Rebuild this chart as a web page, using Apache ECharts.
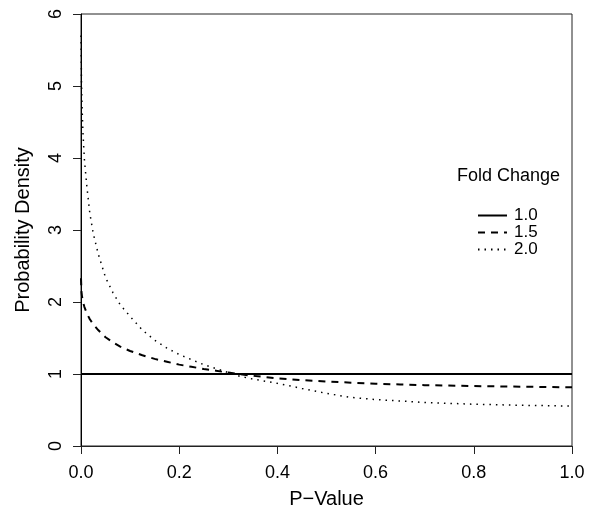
<!DOCTYPE html>
<html>
<head>
<meta charset="utf-8">
<script src="https://cdn.jsdelivr.net/npm/echarts@6/dist/echarts.min.js"></script>
<style>
  html, body { margin: 0; padding: 0; background: #fff; }
  #main { width: 594px; height: 510px; }
</style>
</head>
<body>
<div id="main"></div>
<script>
// p-values sampled along the x axis
var pValues = [0, 0.001, 0.002, 0.004, 0.007, 0.012, 0.018, 0.025, 0.035, 0.05,
  0.065, 0.08, 0.1, 0.125, 0.15, 0.175, 0.2, 0.225, 0.25, 0.275, 0.3, 0.325,
  0.35, 0.4, 0.45, 0.5, 0.55, 0.6, 0.65, 0.7, 0.8, 0.9, 1.0];

// densities, one per fold change
var fold10 = [1, 1, 1, 1, 1, 1, 1, 1, 1, 1, 1, 1, 1, 1, 1, 1, 1, 1, 1, 1, 1, 1,
  1, 1, 1, 1, 1, 1, 1, 1, 1, 1, 1];
var fold15 = [2.33, 2.14, 2.08, 2.0, 1.93, 1.84, 1.76, 1.69, 1.61, 1.51,
  1.44, 1.38, 1.32, 1.26, 1.21, 1.17, 1.13, 1.10, 1.07, 1.045, 1.02, 0.995,
  0.975, 0.94, 0.915, 0.895, 0.88, 0.865, 0.855, 0.845, 0.833, 0.823, 0.815];
var fold20 = [5.7, 5.05, 4.75, 4.35, 3.97, 3.6, 3.23, 2.95, 2.67, 2.34,
  2.13, 1.96, 1.80, 1.61, 1.47, 1.36, 1.27, 1.20, 1.13, 1.075, 1.02, 0.965,
  0.93, 0.87, 0.80, 0.73, 0.675, 0.645, 0.625, 0.605, 0.58, 0.565, 0.555];

var seriesNames = ['1.0', '1.5', '2.0'];
var xTicks = [0, 0.2, 0.4, 0.6, 0.8, 1.0];
var yTicks = [0, 1, 2, 3, 4, 5, 6];

function pairs(ys) {
  return pValues.map(function (p, i) { return [p, ys[i]]; });
}

var font = '"Liberation Sans", Arial, Helvetica, sans-serif';
var chart = echarts.init(document.getElementById('main'));

var option = {
  animation: false,
  backgroundColor: '#fff',
  color: ['#000', '#000', '#000'],
  textStyle: { fontFamily: font, color: '#000' },
  title: {
    text: 'Fold Change',
    left: 452,
    top: 162,
    textStyle: { fontFamily: font, fontSize: 18, fontWeight: 'normal', color: '#000' }
  },
  legend: {
    orient: 'vertical',
    left: 472,
    top: 202,
    itemWidth: 29,
    itemHeight: 12,
    itemGap: 0,
    data: seriesNames,
    itemStyle: { color: 'transparent', borderColor: 'transparent', borderWidth: 0 },
    textStyle: { fontFamily: font, fontSize: 17, lineHeight: 17, color: '#000', padding: [0, 0, 0, 2] }
  },
  grid: {
    left: 81,
    right: 22,
    top: 14,
    bottom: 64,
    outerBoundsMode: 'none',
    show: true,
    borderColor: '#222',
    borderWidth: 1
  },
  xAxis: {
    type: 'value',
    min: xTicks[0],
    max: xTicks[xTicks.length - 1],
    interval: 0.2,
    name: 'P\u2212Value',
    nameLocation: 'middle',
    nameGap: 43,
    nameTextStyle: { fontFamily: font, fontSize: 20, color: '#000' },
    splitLine: { show: false },
    axisLine: { show: true, lineStyle: { color: '#222', width: 1 } },
    axisTick: { show: true, length: 8, lineStyle: { color: '#222' } },
    axisLabel: {
      fontFamily: font, fontSize: 18, color: '#000', margin: 18,
      formatter: function (v) { return v.toFixed(1); }
    }
  },
  yAxis: {
    type: 'value',
    min: yTicks[0],
    max: yTicks[yTicks.length - 1],
    interval: 1,
    name: 'Probability Density',
    nameLocation: 'middle',
    nameGap: 48,
    nameTextStyle: { fontFamily: font, fontSize: 20, color: '#000' },
    splitLine: { show: false },
    axisLine: { show: true, lineStyle: { color: '#000', width: 1 } },
    axisTick: { show: true, length: 8, lineStyle: { color: '#222' } },
    axisLabel: { fontFamily: font, fontSize: 18, color: '#000', rotate: 90, margin: 16 }
  },
  series: [
    {
      name: seriesNames[0],
      type: 'line',
      symbol: 'none',
      data: pairs(fold10),
      lineStyle: { color: '#000', width: 2, type: 'solid' }
    },
    {
      name: seriesNames[1],
      type: 'line',
      symbol: 'none',
      data: pairs(fold15),
      lineStyle: { color: '#000', width: 2, type: [7, 6] }
    },
    {
      name: seriesNames[2],
      type: 'line',
      symbol: 'none',
      data: pairs(fold20),
      lineStyle: { color: '#000', width: 1.5, type: [1.5, 5] }
    }
  ]
};
chart.setOption(option);
</script>
</body>
</html>
